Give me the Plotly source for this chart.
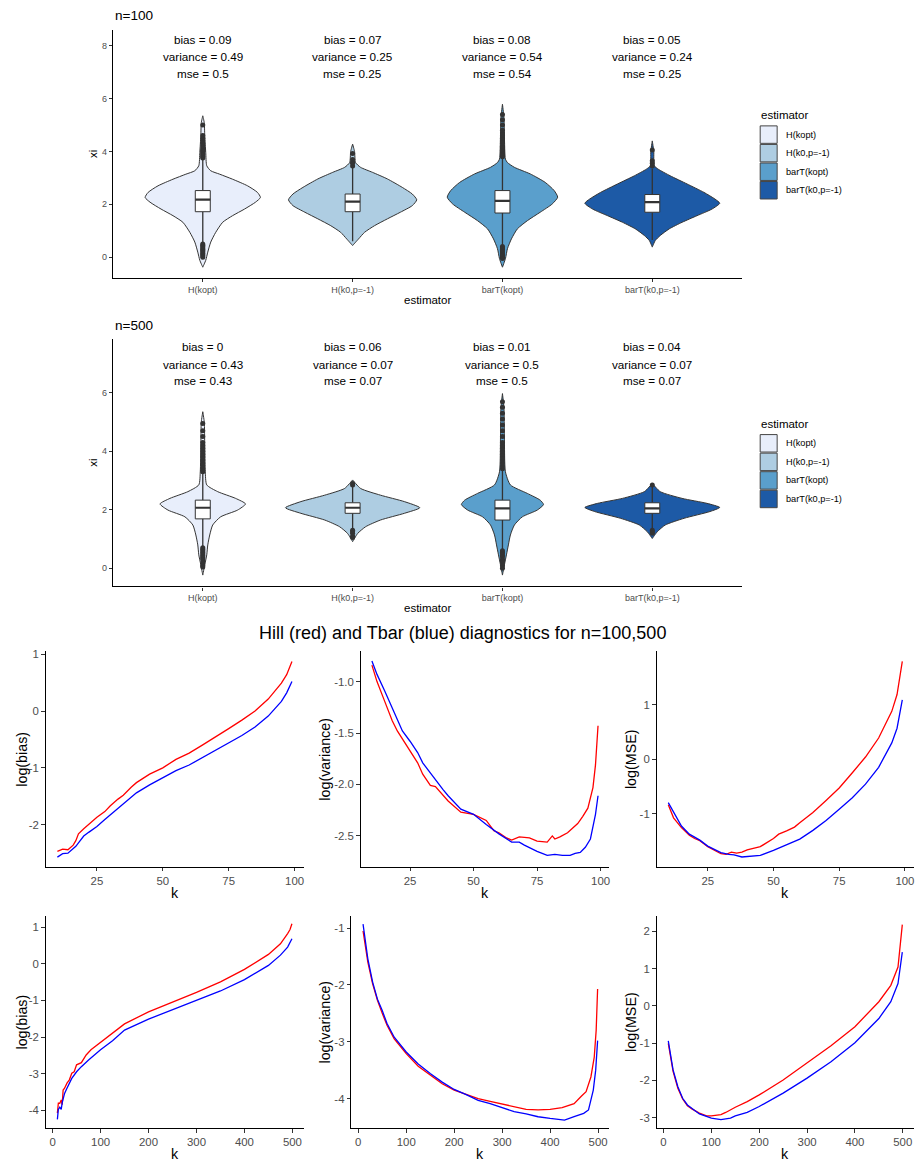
import plotly.graph_objects as go

W, H = 919, 1166
FONT = "Liberation Sans, Arial, Helvetica, sans-serif"
GREY30 = "#4D4D4D"
GREY20 = "#333333"

# ---------------- violin data ----------------
categories = ["H(kopt)", "H(k0,p=-1)", "barT(kopt)", "barT(k0,p=-1)"]
fill_colors = ["#E8EEFB", "#AECDE2", "#5A9FCC", "#1D5AA6"]

# n = 100 : density profiles (xi grid, relative density)
n100_hkopt_xi = [-0.38, -0.12, 0.19, 0.57, 0.94, 1.32, 1.57, 1.82, 2.08, 2.26, 2.45, 2.70, 2.95, 3.14, 3.27, 3.46, 3.96, 4.6, 5.09, 5.35]
n100_hkopt_dens = [0, .044, .074, .118, .192, .295, .442, .619, .782, .855, .811, .664, .442, .251, .118, .059, .044, .029, .022, 0]
n100_hk0_xi = [0.44, 0.69, 0.94, 1.19, 1.45, 1.70, 1.95, 2.17, 2.39, 2.64, 2.96, 3.21, 3.40, 3.58, 4.0, 4.28]
n100_hk0_dens = [0, .088, .177, .324, .516, .708, .885, .951, .885, .737, .516, .295, .118, .044, .029, 0]
n100_tkopt_xi = [-0.38, -0.06, 0.32, 0.69, 1.07, 1.38, 1.70, 2.01, 2.27, 2.52, 2.83, 3.15, 3.40, 3.58, 3.71, 4.59, 5.3, 5.79]
n100_tkopt_dens = [0, .044, .074, .133, .221, .369, .560, .737, .819, .767, .634, .413, .177, .074, .044, .029, .022, 0]
n100_tk0_xi = [0.38, 0.63, 0.82, 1.07, 1.32, 1.57, 1.82, 2.04, 2.20, 2.45, 2.77, 3.08, 3.33, 3.46, 4.0, 4.40]
n100_tk0_dens = [0, .044, .118, .251, .442, .664, .885, 1.0, .929, .767, .516, .265, .088, .029, .022, 0]

# n = 500 : density profiles
n500_hkopt_xi = [-0.23, 0.12, 0.46, 0.80, 1.14, 1.48, 1.76, 1.99, 2.20, 2.39, 2.62, 2.85, 3.30, 4.2, 5.0, 5.35]
n500_hkopt_dens = [0, .029, .059, .074, .103, .147, .265, .516, .634, .487, .221, .059, .037, .029, .022, 0]
n500_hk0_xi = [0.91, 1.19, 1.42, 1.65, 1.88, 2.07, 2.28, 2.50, 2.73, 3.02]
n500_hk0_dens = [0, .074, .192, .413, .767, .996, .767, .413, .118, 0]
n500_tkopt_xi = [-0.23, 0.12, 0.46, 0.80, 1.14, 1.48, 1.76, 1.99, 2.18, 2.33, 2.56, 2.85, 3.30, 4.5, 5.5, 5.97]
n500_tkopt_dens = [0, .029, .059, .088, .118, .177, .295, .516, .609, .560, .369, .118, .044, .029, .022, 0]
n500_tk0_xi = [1.02, 1.25, 1.48, 1.71, 1.94, 2.08, 2.22, 2.39, 2.62, 2.90]
n500_tk0_dens = [0, .074, .192, .472, .855, 1.0, .811, .442, .118, 0]

# box statistics
n100_q1 = [1.72, 1.72, 1.67, 1.70]
n100_med = [2.18, 2.10, 2.13, 2.08]
n100_q3 = [2.52, 2.39, 2.52, 2.37]
n100_lo = [0.55, 0.60, 0.42, 0.65]
n100_hi = [3.72, 3.38, 3.78, 3.35]
n500_q1 = [1.69, 1.88, 1.65, 1.88]
n500_med = [2.07, 2.07, 2.05, 2.05]
n500_q3 = [2.33, 2.24, 2.33, 2.24]
n500_lo = [0.73, 1.35, 0.63, 1.35]
n500_hi = [3.28, 2.78, 3.35, 2.78]

# outliers
n100_out_hkopt = [3.75, 3.8, 3.85, 3.9, 3.95, 4.0, 4.05, 4.1, 4.2, 4.3, 4.4, 4.5, 4.6, 5.0,
                  0.5, 0.45, 0.4, 0.35, 0.3, 0.25, 0.2, 0.15, 0.1, 0.05, 0.0]
n100_out_hk0 = [3.45, 3.55, 3.6, 3.7, 3.92]
n100_out_tkopt = [3.8, 3.85, 3.9, 3.95, 4.0, 4.05, 4.1, 4.15, 4.2, 4.3, 4.4, 4.5, 4.6, 4.7, 4.8, 5.0, 5.2, 5.4,
                  0.4, 0.35, 0.3, 0.25, 0.2, 0.15, 0.1, 0.05, 0.0, -0.05]
n100_out_tk0 = [3.45, 3.55, 3.65, 4.06]
n500_out_hkopt = [3.3, 3.35, 3.4, 3.5, 3.6, 3.7, 3.8, 3.9, 4.0, 4.1, 4.2, 4.3, 4.5, 4.7, 4.95,
                  0.7, 0.65, 0.6, 0.55, 0.5, 0.45, 0.4, 0.35, 0.3, 0.2, 0.1, 0.05]
n500_out_hk0 = [2.85, 2.9, 1.3, 1.25, 1.2, 1.1, 1.05]
n500_out_tkopt = [3.4, 3.5, 3.6, 3.7, 3.8, 3.9, 4.0, 4.1, 4.2, 4.3, 4.5, 4.7, 4.9, 5.1, 5.3, 5.5, 5.69,
                  0.6, 0.55, 0.5, 0.45, 0.4, 0.3, 0.25, 0.2, 0.1, 0.0]
n500_out_tk0 = [2.85, 1.3, 1.25, 1.2]

# summary text
n100_bias = [0.09, 0.07, 0.08, 0.05]
n100_var = [0.49, 0.25, 0.54, 0.24]
n100_mse = [0.5, 0.25, 0.54, 0.25]
n500_bias = [0, 0.06, 0.01, 0.04]
n500_var = [0.43, 0.07, 0.5, 0.07]
n500_mse = [0.43, 0.07, 0.5, 0.07]

# ---------------- diagnostic curves ----------------
bias100_k = [10, 12, 14, 16, 17, 18, 20, 22, 25, 28, 30, 33, 35, 38, 40, 45, 50, 55, 60, 65, 70, 75, 80, 85, 90, 95, 97, 99]
bias100_hill = [-2.47, -2.43, -2.44, -2.36, -2.28, -2.16, -2.07, -1.99, -1.87, -1.77, -1.67, -1.55, -1.48, -1.34, -1.26,
                -1.11, -1.0, -0.85, -0.74, -0.60, -0.46, -0.31, -0.16, 0.0, 0.21, 0.49, 0.64, 0.87]
bias100_tbar = [-2.57, -2.51, -2.50, -2.43, -2.38, -2.32, -2.20, -2.13, -2.03, -1.91, -1.83, -1.72, -1.64, -1.52, -1.44,
                -1.30, -1.18, -1.05, -0.95, -0.82, -0.69, -0.56, -0.43, -0.28, -0.09, 0.17, 0.32, 0.52]

var100_hill_k = [10, 12, 15, 18, 20, 22, 25, 28, 30, 33, 35, 38, 40, 45, 50, 55, 58, 60, 63, 65, 68, 72, 75, 79, 81, 82,
                 84, 87, 89, 91, 93, 95, 97, 98, 99]
var100_hill = [-0.84, -1.0, -1.19, -1.38, -1.48, -1.56, -1.68, -1.79, -1.90, -2.01, -2.02, -2.11, -2.16, -2.27, -2.29,
               -2.35, -2.45, -2.47, -2.52, -2.54, -2.51, -2.52, -2.55, -2.56, -2.50, -2.53, -2.51, -2.47, -2.42, -2.38,
               -2.31, -2.23, -2.03, -1.81, -1.43]
var100_tbar_k = [10, 12, 15, 18, 20, 22, 25, 28, 30, 33, 35, 38, 40, 45, 50, 55, 60, 65, 68, 70, 75, 79, 82, 85, 88, 90,
                 92, 94, 96, 97, 98, 99]
var100_tbar = [-0.80, -0.93, -1.09, -1.26, -1.38, -1.48, -1.58, -1.69, -1.79, -1.89, -1.95, -2.05, -2.11, -2.24, -2.29,
               -2.39, -2.48, -2.56, -2.56, -2.59, -2.65, -2.69, -2.68, -2.69, -2.69, -2.67, -2.66, -2.61, -2.53, -2.42,
               -2.29, -2.11]

mse100_hill_k = [10, 12, 15, 18, 20, 22, 25, 28, 30, 32, 34, 36, 38, 40, 45, 50, 52, 55, 58, 60, 65, 70, 75, 80, 85, 90,
                 95, 97, 99]
mse100_hill = [-0.84, -1.08, -1.26, -1.40, -1.46, -1.50, -1.61, -1.68, -1.74, -1.75, -1.71, -1.73, -1.71, -1.67, -1.61,
               -1.46, -1.38, -1.32, -1.25, -1.17, -0.98, -0.76, -0.53, -0.25, 0.04, 0.39, 0.88, 1.19, 1.80]
mse100_tbar_k = [10, 12, 15, 18, 20, 22, 25, 28, 30, 33, 35, 38, 40, 45, 50, 55, 58, 60, 65, 70, 75, 80, 85, 90, 95, 97, 99]
mse100_tbar = [-0.80, -0.98, -1.23, -1.38, -1.44, -1.49, -1.60, -1.68, -1.72, -1.75, -1.76, -1.80, -1.79, -1.77, -1.68,
               -1.58, -1.52, -1.47, -1.31, -1.13, -0.92, -0.71, -0.46, -0.15, 0.30, 0.57, 1.09]

bias500_hill_k = [10, 12, 15, 18, 20, 22, 25, 30, 35, 40, 45, 50, 60, 70, 80, 90, 100, 125, 150, 200, 250, 300, 350, 400,
                  450, 475, 490, 495, 499]
bias500_hill = [-4.08, -3.81, -3.81, -3.72, -3.85, -3.45, -3.40, -3.26, -3.17, -2.99, -2.95, -2.76, -2.70, -2.49, -2.35,
                -2.25, -2.15, -1.90, -1.64, -1.31, -1.05, -0.78, -0.49, -0.15, 0.26, 0.55, 0.83, 0.94, 1.10]
bias500_tbar_k = [10, 12, 15, 18, 20, 25, 30, 40, 50, 60, 75, 90, 100, 125, 150, 200, 250, 300, 350, 400, 450, 475, 490, 499]
bias500_tbar = [-4.25, -3.98, -3.92, -3.98, -3.80, -3.54, -3.40, -3.13, -2.95, -2.81, -2.63, -2.45, -2.35, -2.10, -1.81,
                -1.51, -1.26, -1.01, -0.74, -0.43, -0.04, 0.24, 0.46, 0.69]

var500_hill_k = [10, 15, 20, 30, 40, 50, 60, 75, 100, 125, 150, 175, 200, 225, 250, 275, 300, 325, 350, 375, 400, 425,
                 450, 465, 475, 485, 492, 496, 499]
var500_hill = [-1.05, -1.37, -1.60, -1.98, -2.27, -2.50, -2.71, -2.95, -3.21, -3.43, -3.59, -3.74, -3.85, -3.92, -4.00,
               -4.05, -4.10, -4.15, -4.19, -4.20, -4.19, -4.16, -4.09, -3.96, -3.88, -3.62, -3.27, -2.80, -2.07]
var500_tbar_k = [10, 15, 20, 30, 40, 50, 60, 75, 100, 125, 150, 175, 200, 225, 250, 275, 300, 325, 350, 375, 400, 430,
                 450, 470, 480, 490, 495, 499]
var500_tbar = [-0.93, -1.28, -1.54, -1.95, -2.25, -2.45, -2.68, -2.92, -3.18, -3.39, -3.56, -3.71, -3.84, -3.93, -4.03,
               -4.09, -4.16, -4.23, -4.27, -4.32, -4.35, -4.38, -4.32, -4.26, -4.20, -3.85, -3.50, -2.98]

mse500_hill_k = [10, 15, 20, 30, 40, 50, 60, 75, 90, 100, 120, 130, 150, 175, 200, 250, 300, 350, 400, 450, 475, 490, 499]
mse500_hill = [-1.01, -1.45, -1.76, -2.21, -2.50, -2.68, -2.77, -2.88, -2.95, -2.95, -2.92, -2.86, -2.72, -2.57, -2.39,
               -1.99, -1.54, -1.07, -0.56, 0.11, 0.55, 1.04, 2.18]
mse500_tbar_k = [10, 15, 20, 30, 40, 50, 60, 75, 100, 120, 140, 150, 175, 200, 250, 300, 350, 400, 450, 475, 490, 499]
mse500_tbar = [-0.94, -1.36, -1.72, -2.17, -2.48, -2.66, -2.76, -2.90, -3.01, -3.05, -3.01, -2.95, -2.86, -2.70, -2.34,
               -1.94, -1.50, -0.99, -0.34, 0.11, 0.60, 1.44]

# ---------------- helpers ----------------
def px(x):
    return x / W


def py(y):
    return 1 - y / H


fig = go.Figure()
annotations = []
shapes = []


def txt(x, y, s, size, color="black", xanchor="center", yanchor="middle", angle=0, xref="paper", yref="paper"):
    annotations.append(dict(x=x, y=y, xref=xref, yref=yref, text=s, showarrow=False, xanchor=xanchor,
                            yanchor=yanchor, textangle=angle, font=dict(family=FONT, size=size, color=color)))


violin_panels = [
    dict(ax="", top=27, bottom=276, yrange=[-0.8, 8.6], yticks=[0, 2, 4, 6, 8], title="n=100", title_y=13,
         profiles=[(n100_hkopt_xi, n100_hkopt_dens), (n100_hk0_xi, n100_hk0_dens),
                   (n100_tkopt_xi, n100_tkopt_dens), (n100_tk0_xi, n100_tk0_dens)],
         q1=n100_q1, med=n100_med, q3=n100_q3, lo=n100_lo, hi=n100_hi,
         outliers=[n100_out_hkopt, n100_out_hk0, n100_out_tkopt, n100_out_tk0],
         bias=n100_bias, var=n100_var, mse=n100_mse, text_y=[8.23, 7.58, 6.94], legend_dy=0),
    dict(ax="2", top=337, bottom=585, yrange=[-0.62, 7.83], yticks=[0, 2, 4, 6], title="n=500", title_y=323,
         profiles=[(n500_hkopt_xi, n500_hkopt_dens), (n500_hk0_xi, n500_hk0_dens),
                   (n500_tkopt_xi, n500_tkopt_dens), (n500_tk0_xi, n500_tk0_dens)],
         q1=n500_q1, med=n500_med, q3=n500_q3, lo=n500_lo, hi=n500_hi,
         outliers=[n500_out_hkopt, n500_out_hk0, n500_out_tkopt, n500_out_tk0],
         bias=n500_bias, var=n500_var, mse=n500_mse, text_y=[7.57, 6.98, 6.40], legend_dy=309.5),
]

VL, VR = 113, 743
HALF = 0.45   # violin half-width for max density
BOXHW = 0.05  # box half-width

layout_axes = {}
for p in violin_panels:
    xa, ya = "x" + p["ax"], "y" + p["ax"]
    # violins
    for i, (xi, dens) in enumerate(p["profiles"]):
        c = i + 1
        xs = [c + d * HALF for d in dens] + [c - d * HALF for d in reversed(dens)]
        ys = list(xi) + list(reversed(xi))
        xs.append(xs[0])
        ys.append(ys[0])
        fig.add_trace(go.Scatter(x=xs, y=ys, mode="lines", fill="toself", fillcolor=fill_colors[i],
                                 line=dict(color=GREY20, width=1, shape="spline", smoothing=0.6),
                                 xaxis=xa, yaxis=ya, showlegend=False, hoverinfo="skip"))
    # whiskers
    wx, wy = [], []
    for i in range(4):
        c = i + 1
        wx += [c, c, None, c, c, None]
        wy += [p["q3"][i], p["hi"][i], None, p["q1"][i], p["lo"][i], None]
    fig.add_trace(go.Scatter(x=wx, y=wy, mode="lines", line=dict(color=GREY20, width=1.3),
                             xaxis=xa, yaxis=ya, showlegend=False, hoverinfo="skip"))
    # outliers
    ox, oy = [], []
    for i, vals in enumerate(p["outliers"]):
        ox += [i + 1] * len(vals)
        oy += vals
    fig.add_trace(go.Scatter(x=ox, y=oy, mode="markers", marker=dict(color=GREY20, size=5),
                             xaxis=xa, yaxis=ya, showlegend=False, hoverinfo="skip"))
    # boxes
    for i in range(4):
        c = i + 1
        fig.add_trace(go.Scatter(x=[c - BOXHW, c + BOXHW, c + BOXHW, c - BOXHW, c - BOXHW],
                                 y=[p["q1"][i], p["q1"][i], p["q3"][i], p["q3"][i], p["q1"][i]],
                                 mode="lines", fill="toself", fillcolor="white",
                                 line=dict(color=GREY20, width=1), xaxis=xa, yaxis=ya,
                                 showlegend=False, hoverinfo="skip"))
        fig.add_trace(go.Scatter(x=[c - BOXHW, c + BOXHW], y=[p["med"][i], p["med"][i]], mode="lines",
                                 line=dict(color=GREY20, width=2.2), xaxis=xa, yaxis=ya,
                                 showlegend=False, hoverinfo="skip"))
    # summary text
    for i in range(4):
        lines = [f"bias = {p['bias'][i]:g}", f"variance = {p['var'][i]:g}", f"mse = {p['mse'][i]:g}"]
        for s, yv in zip(lines, p["text_y"]):
            txt(i + 1, yv, s, 11.7, xref=xa, yref=ya)
    # axes
    xkey = "xaxis" + p["ax"]
    ykey = "yaxis" + p["ax"]
    layout_axes[xkey] = dict(domain=[px(VL), px(VR)], range=[0.4, 4.6], anchor=ya,
                             tickvals=[1, 2, 3, 4], ticktext=categories,
                             tickfont=dict(family=FONT, size=9, color=GREY30),
                             showline=True, linecolor="black", linewidth=1.1, ticks="outside", ticklen=3,
                             tickcolor=GREY20, showgrid=False, zeroline=False, fixedrange=True)
    layout_axes[ykey] = dict(domain=[py(p["bottom"]), py(p["top"])], range=p["yrange"], anchor=xa,
                             tickvals=p["yticks"], ticktext=[str(t) for t in p["yticks"]],
                             tickfont=dict(family=FONT, size=9, color=GREY30),
                             showline=True, linecolor="black", linewidth=1.1, ticks="outside", ticklen=3,
                             tickcolor=GREY20, showgrid=False, zeroline=False, fixedrange=True)
    # titles
    txt(px(113), py(p["title_y"]), p["title"], 13.6, xanchor="left")
    txt(px(93), py((p["top"] + p["bottom"]) / 2), "xi", 11.5, angle=-90)
    txt(px((VL + VR) / 2), py(p["bottom"] + 22), "estimator", 11.5)
    # legend
    dy = p["legend_dy"]
    txt(px(760), py(112.7 + dy), "estimator", 11.5, xanchor="left")
    for i, cat in enumerate(categories):
        y0 = 122.7 + i * 18.6 + dy
        shapes.append(dict(type="rect", xref="paper", yref="paper", x0=px(761), x1=px(778),
                           y0=py(y0 + 0.5), y1=py(y0 + 18), fillcolor=fill_colors[i],
                           line=dict(color="#444444", width=1)))
        txt(px(785), py(y0 + 9.2), cat, 9.2, xanchor="left")

# ---------------- diagnostic panels ----------------
RED, BLUE = "#FF0000", "#0000FF"
diag_panels = [
    dict(n="3", x0=45.7, x1=304, top=650, bottom=866, xr=[5.55, 103.45], xt=[25, 50, 75, 100],
         yr=[-2.74, 1.05], yt=[-2, -1, 0, 1], yl=["-2", "-1", "0", "1"], ylab="log(bias)", labx=21.7,
         hill=(bias100_k, bias100_hill), tbar=(bias100_k, bias100_tbar)),
    dict(n="4", x0=361, x1=610, top=650, bottom=866, xr=[5.55, 103.45], xt=[25, 50, 75, 100],
         yr=[-2.80, -0.706], yt=[-2.5, -2.0, -1.5, -1.0], yl=["-2.5", "-2.0", "-1.5", "-1.0"],
         ylab="log(variance)", labx=325, hill=(var100_hill_k, var100_hill), tbar=(var100_tbar_k, var100_tbar)),
    dict(n="5", x0=657.3, x1=915, top=650, bottom=866, xr=[5.55, 103.45], xt=[25, 50, 75, 100],
         yr=[-1.98, 1.985], yt=[-1, 0, 1], yl=["-1", "0", "1"], ylab="log(MSE)", labx=631.7,
         hill=(mse100_hill_k, mse100_hill), tbar=(mse100_tbar_k, mse100_tbar)),
    dict(n="6", x0=45.7, x1=304, top=915, bottom=1128, xr=[-14.45, 523.45], xt=[0, 100, 200, 300, 400, 500],
         yr=[-4.49, 1.32], yt=[-4, -3, -2, -1, 0, 1], yl=["-4", "-3", "-2", "-1", "0", "1"], ylab="log(bias)",
         labx=21.7, hill=(bias500_hill_k, bias500_hill), tbar=(bias500_tbar_k, bias500_tbar)),
    dict(n="7", x0=351.7, x1=610, top=915, bottom=1128, xr=[-14.45, 523.45], xt=[0, 100, 200, 300, 400, 500],
         yr=[-4.52, -0.78], yt=[-4, -3, -2, -1], yl=["-4", "-3", "-2", "-1"], ylab="log(variance)", labx=325,
         hill=(var500_hill_k, var500_hill), tbar=(var500_tbar_k, var500_tbar)),
    dict(n="8", x0=657.3, x1=915, top=915, bottom=1128, xr=[-14.45, 523.45], xt=[0, 100, 200, 300, 400, 500],
         yr=[-3.28, 2.42], yt=[-3, -2, -1, 0, 1, 2], yl=["-3", "-2", "-1", "0", "1", "2"], ylab="log(MSE)",
         labx=631.7, hill=(mse500_hill_k, mse500_hill), tbar=(mse500_tbar_k, mse500_tbar)),
]

for d in diag_panels:
    xa, ya = "x" + d["n"], "y" + d["n"]
    fig.add_trace(go.Scatter(x=d["hill"][0], y=d["hill"][1], mode="lines", line=dict(color=RED, width=1.3),
                             xaxis=xa, yaxis=ya, showlegend=False, hoverinfo="skip"))
    fig.add_trace(go.Scatter(x=d["tbar"][0], y=d["tbar"][1], mode="lines", line=dict(color=BLUE, width=1.3),
                             xaxis=xa, yaxis=ya, showlegend=False, hoverinfo="skip"))
    layout_axes["xaxis" + d["n"]] = dict(domain=[px(d["x0"]), px(d["x1"])], range=d["xr"], anchor=ya,
                                         tickvals=d["xt"], ticktext=[str(t) for t in d["xt"]],
                                         tickfont=dict(family=FONT, size=11.4, color=GREY30),
                                         showline=True, linecolor="black", linewidth=1.1, ticks="outside",
                                         ticklen=3.5, tickcolor=GREY20, showgrid=False, zeroline=False)
    layout_axes["yaxis" + d["n"]] = dict(domain=[py(d["bottom"]), py(d["top"])], range=d["yr"], anchor=xa,
                                         tickvals=d["yt"], ticktext=d["yl"],
                                         tickfont=dict(family=FONT, size=11.4, color=GREY30),
                                         showline=True, linecolor="black", linewidth=1.1, ticks="outside",
                                         ticklen=3.5, tickcolor=GREY20, showgrid=False, zeroline=False)
    txt(px(d["labx"]), py((d["top"] + d["bottom"]) / 2), d["ylab"], 14.3, angle=-90)
    txt(px((d["x0"] + d["x1"]) / 2), py(d["bottom"] + 26), "k", 14.3)

txt(px(463), py(632), "Hill (red) and Tbar (blue) diagnostics for n=100,500", 18)

fig.update_layout(width=W, height=H, margin=dict(l=0, r=0, t=0, b=0), paper_bgcolor="white",
                  plot_bgcolor="white", showlegend=False, annotations=annotations, shapes=shapes,
                  font=dict(family=FONT), **layout_axes)

fig.write_html("out.html", include_plotlyjs=True, config={"displayModeBar": False})
